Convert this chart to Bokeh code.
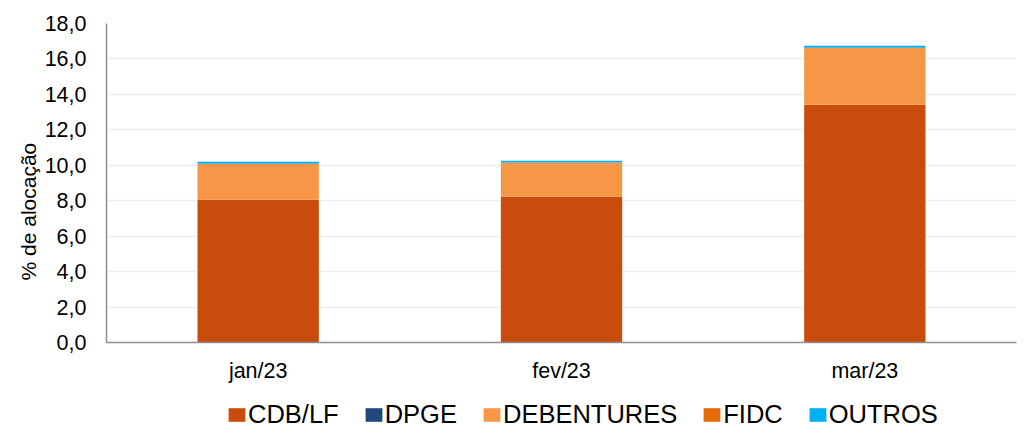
from bokeh.plotting import figure
from bokeh.layouts import column
from bokeh.models import FactorRange, Range1d, FixedTicker, Legend, LegendItem, ColumnDataSource, Title
from bokeh.embed import file_html
from bokeh.resources import INLINE

months = ["jan/23", "fev/23", "mar/23"]
cdb_lf = [8.05, 8.24, 13.41]
dpge = [0.0, 0.0, 0.0]
debentures = [2.03, 1.92, 3.22]
fidc = [0.0, 0.0, 0.0]
outros = [0.12, 0.09, 0.11]
series_names = ["CDB/LF", "DPGE", "DEBENTURES", "FIDC", "OUTROS"]
series_colors = ["#C84D0C", "#1F497D", "#F79646", "#E46C0A", "#00B0F0"]
y_ticks = [0, 2, 4, 6, 8, 10, 12, 14, 16, 18]
y_tick_labels = ["0,0", "2,0", "4,0", "6,0", "8,0", "10,0", "12,0", "14,0", "16,0", "18,0"]
y_title = "% de alocação"

FONT = "Liberation Sans"
W = 1017

source = ColumnDataSource(data={
    "months": months,
    "CDB/LF": cdb_lf,
    "DPGE": dpge,
    "DEBENTURES": debentures,
    "FIDC": fidc,
    "OUTROS": outros,
})

p = figure(
    x_range=FactorRange(factors=months, range_padding=0),
    y_range=Range1d(0, 18),
    width=W, height=395,
    output_backend="svg", toolbar_location=None,
    min_border_left=106, min_border_right=1, min_border_top=23, min_border_bottom=53,
)

p.vbar_stack(series_names, x="months", width=0.4, color=series_colors,
             line_color=None, source=source)

p.outline_line_color = None
p.background_fill_color = "white"
p.xgrid.grid_line_color = None
p.ygrid.grid_line_color = "#EFEFEF"
p.ygrid.grid_line_width = 1.5
p.ygrid.ticker = FixedTicker(ticks=y_ticks)

p.yaxis.ticker = FixedTicker(ticks=y_ticks)
p.yaxis.major_label_overrides = {t: l for t, l in zip(y_ticks, y_tick_labels)}

for ax in (p.xaxis[0], p.yaxis[0]):
    ax.axis_line_color = "#8F8F8F"
    ax.axis_line_width = 1.5
    ax.major_tick_line_color = None
    ax.minor_tick_line_color = None
    ax.major_label_text_font = FONT
    ax.major_label_text_font_size = "21.5px"
    ax.major_label_text_color = "#000000"

p.yaxis.major_label_standoff = 14
p.xaxis.major_label_standoff = 10

ytitle = Title(text=y_title, align="left", offset=62, standoff=4,
               text_font=FONT, text_font_size="21px", text_font_style="normal",
               text_color="#000000")
p.add_layout(ytitle, "left")

# Legend strip under the chart (bars fall outside its y range, so only the legend shows)
lg = figure(
    x_range=FactorRange(factors=months, range_padding=0), y_range=Range1d(100, 101),
    width=W, height=34,
    output_backend="svg", toolbar_location=None,
    x_axis_location=None, y_axis_location=None,
    min_border_left=0, min_border_right=0, min_border_top=0, min_border_bottom=0,
)
lg.outline_line_color = None
lg.xgrid.visible = False
lg.ygrid.visible = False

lg_renderers = lg.vbar_stack(series_names, x="months", width=0.4, color=series_colors,
                             line_color=None, source=source)
items = [LegendItem(label=n, renderers=[r]) for n, r in zip(series_names, lg_renderers)]

legend = Legend(
    items=items, orientation="horizontal", location=(120, 0),
    label_text_font=FONT, label_text_font_size="25.5px", label_text_color="#000000",
    glyph_width=21, glyph_height=17, label_standoff=1, spacing=24,
    padding=0, margin=0, border_line_color=None, background_fill_alpha=0,
)
lg.add_layout(legend, "center")

layout = column(p, lg)
open("out.html", "w").write(file_html(layout, INLINE))
